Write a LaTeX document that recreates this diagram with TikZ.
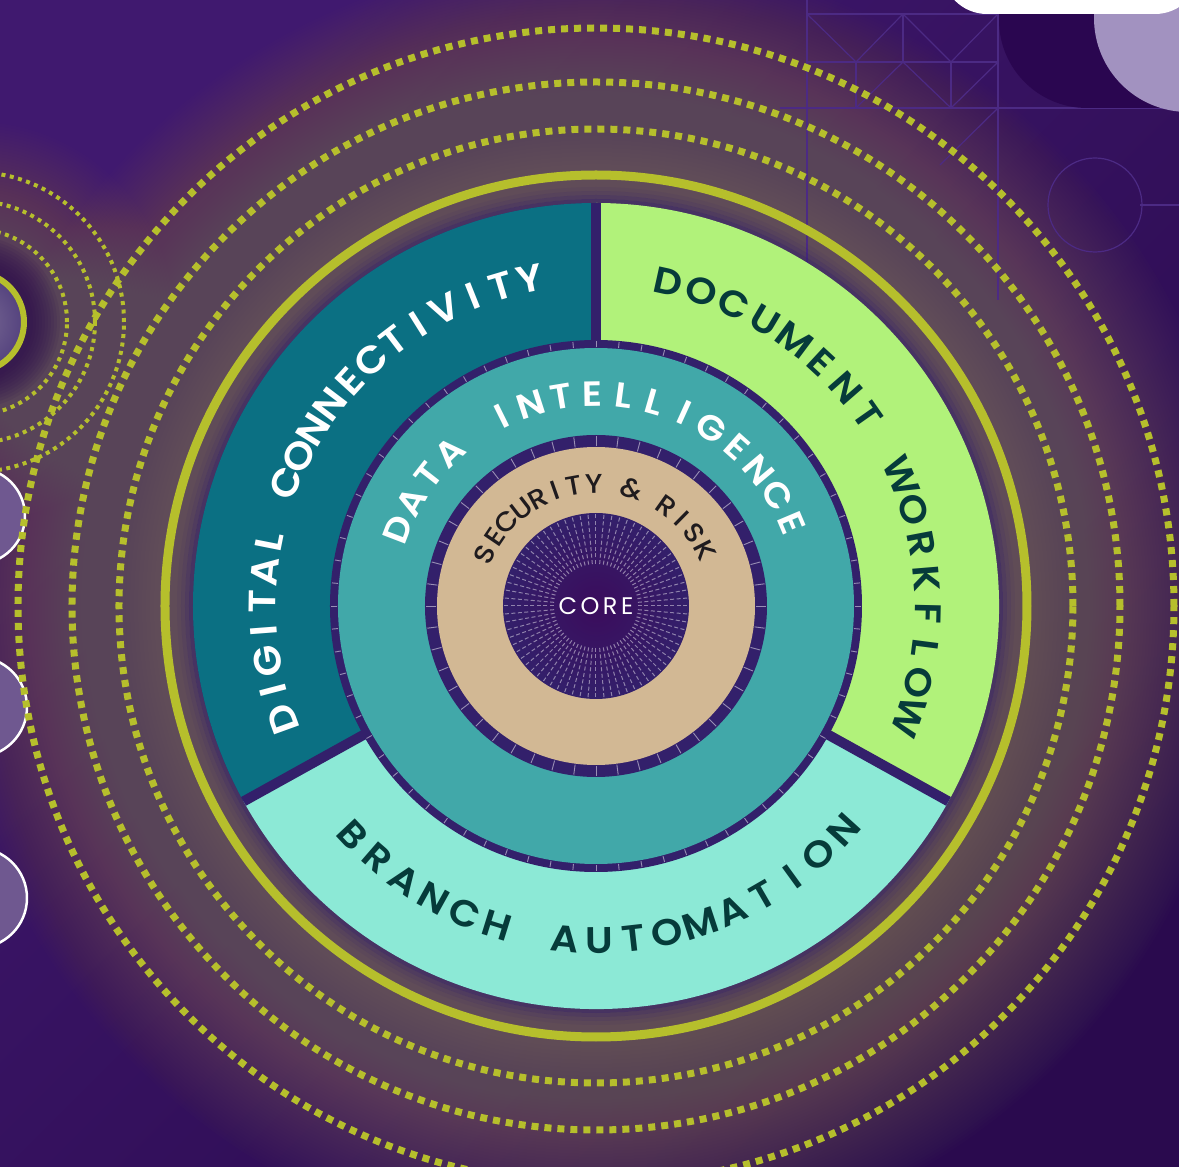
\documentclass[tikz,border=0pt]{standalone}
\usepackage{fontspec}
\setmainfont{Poppins}
\newfontfamily\labelfont{Poppins SemiBold}
\newfontfamily\smallfont{Poppins Medium}
\definecolor{bgtop}{HTML}{40196F}
\definecolor{bgdark}{HTML}{2A0A4E}
\definecolor{glowc}{HTML}{8A7658}
\definecolor{lime}{HTML}{B6BF2C}
\definecolor{indigo}{HTML}{33206B}
\definecolor{digitalc}{HTML}{0B7083}
\definecolor{docc}{HTML}{B1F27A}
\definecolor{branchc}{HTML}{8CE9D6}
\definecolor{datac}{HTML}{41A8A9}
\definecolor{secc}{HTML}{D2B894}
\definecolor{coredark}{HTML}{3B0C5C}
\definecolor{inkteal}{HTML}{063B3A}
\definecolor{inkdark}{HTML}{1F1B1E}
\definecolor{lavender}{HTML}{A292C0}
\definecolor{nightp}{HTML}{2A0650}
\definecolor{gridc}{HTML}{4C2A84}
\definecolor{bubblec}{HTML}{6F5890}
\definecolor{smallcore}{HTML}{7B6C95}
\definecolor{smalledge}{HTML}{54427E}
\tikzstyle{dashring} = [draw=lime, line width=7pt, dash pattern=on 7pt off 6pt]
\tikzstyle{dotring} = [draw=lime, line width=4pt, dash pattern=on 4pt off 4.5pt]
\tikzstyle{solidring} = [draw=lime, line width=9pt]
\tikzstyle{gridline} = [draw=gridc, line width=1.2pt]
\tikzstyle{bubble} = [fill=bubblec, draw=white, line width=2.5pt]
\tikzstyle{divider} = [draw=indigo, line width=10pt]
\tikzstyle{tick} = [draw=white, opacity=0.5, line width=0.9pt]
\tikzstyle{ray} = [draw=white, opacity=0.45, line width=1pt, dash pattern=on 4pt off 2.5pt]
\tikzstyle{letter} = [anchor=base, inner sep=0pt]
\newcommand{\spc}{\hspace*{0pt}}
\newcommand{\ringstretch}{1.08}
\newlength\charwd
% #1 name, #2 baseline radius, #3 first angle, #4 last angle, #5 direction, #6 font, #7 letters
\newcommand{\ringtext}[7]{%
    \gdef\ringtotal{0}%
    \foreach \ch [count=\i] in {#7} {%
        \settowidth{\charwd}{#6\ch}%
        \pgfmathsetmacro\ringwd{\charwd*\ringstretch}%
        \pgfmathsetmacro\ringtmp{\ringtotal+\ringwd}%
        \xdef\ringtotal{\ringtmp}%
        \ifnum\i=1 \xdef\ringfirst{\ringwd}\fi
        \xdef\ringlast{\ringwd}%
        \xdef\ringcount{\i}%
    }%
    \pgfmathsetmacro\ringspan{abs(#4-#3)/57.29578*#2}%
    \pgfmathsetmacro\ringtrack{(\ringspan-(\ringtotal-\ringfirst/2-\ringlast/2))/(\ringcount-1)}%
    \pgfmathsetmacro\ringtmp{-\ringspan/2-\ringfirst/2}%
    \xdef\ringpos{\ringtmp}%
    \foreach \ch [count=\i] in {#7} {%
        \settowidth{\charwd}{#6\ch}%
        \pgfmathsetmacro\ringwd{\charwd*\ringstretch}%
        \pgfmathsetmacro\ringang{(#3+#4)/2+#5*(\ringpos+\ringwd/2)/#2*57.29578}%
        \node (#1\i) [letter, rotate=\ringang+#5*90, xscale=\ringstretch, font=#6] at (\ringang:#2) {\ch};
        \pgfmathsetmacro\ringtmp{\ringpos+\ringwd+\ringtrack}%
        \xdef\ringpos{\ringtmp}%
    }%
}
\begin{document}
\begin{tikzpicture}[x=1pt, y=1pt]
        \useasboundingbox (-596,-561) rectangle (583,606);
        \clip (-596,-561) rectangle (583,606);
        \shade[top color=bgtop, bottom color=bgdark, shading angle=45] (-596,-561) rectangle (583,606);
        % glow round the wheel
        \foreach \r in {650,647,...,470}
            \fill[glowc, opacity=0.02] (0,0) circle (\r);
        \foreach \r in {470,466,...,440}
            \fill[glowc, opacity=0.03] (0,0) circle (\r);
        % glow round the small rings
        \foreach \r in {200,197,...,92}
            \fill[glowc, opacity=0.018] (-622,284) circle (\r);
        \foreach \r in {86,83,...,58}
            \fill[bgdark, opacity=0.1] (-622,284) circle (\r);
        \begin{scope}[shift={(-596,606)}, yscale=-1]
            \draw[gridline] (807,0) -- (807,300);
            \draw[gridline] (998,0) -- (998,300);
            \draw[gridline] (807,14) -- (998,14);
            \draw[gridline] (807,62) -- (998,62);
            \draw[gridline] (780,108) -- (1179,108);
            \draw[gridline] (1140,205) -- (1179,205);
            \draw[gridline] (903,14) -- (903,62);
            \draw[gridline] (856,62) -- (856,108);
            \draw[gridline] (951,62) -- (951,108);
            \draw[gridline] (807,14) -- (856,62) -- (903,14) -- (951,62) -- (998,14);
            \draw[gridline] (856,108) -- (903,62) -- (951,108);
            \draw[gridline] (998,62) -- (951,108);
            \draw[gridline] (998,108) -- (940,165);
            \draw[gridline] (1095,205) circle (47);
            \fill[nightp] (999,-10) [rounded corners=88] -- (999,108) [sharp corners] -- (1200,108) -- (1200,-10) -- cycle;
            \fill[lavender] (1188,18) circle (94);
            \fill[white, rounded corners=45] (942,-60) -- (942,14) -- (1200,14) [sharp corners] -- (1200,-60) -- cycle;
        \end{scope}
        % bubbles on the left edge
        \draw[bubble] (-619,90) circle (48);
        \draw[bubble] (-619,-101) circle (50);
        \draw[bubble] (-619,-292) circle (50);
        % small ring system
        \shade[inner color=smallcore, outer color=smalledge] (-622,284) circle (50);
        \draw[lime, line width=6pt] (-622,284) circle (50);
        \draw[dotring] (-622,284) circle (93);
        \draw[dotring] (-622,284) circle (121);
        \draw[dotring] (-622,284) circle (150);
        % rings
        \draw[dashring] (0,0) circle (477);
        \draw[dashring] (0,0) circle (524);
        \draw[dashring] (0,0) circle (578);
        \draw[solidring] (0,0) circle (431);
        \foreach \r/\op in {403/0.55, 407/0.35, 411/0.2, 415/0.08}
            \fill[indigo, opacity=\op, even odd rule] (0,0) circle (\r+4) (0,0) circle (\r);
        % segments
        \fill[indigo] (0,0) circle (403);
        \fill[digitalc] (0,0) -- (90:403) arc[start angle=90, end angle=209, radius=403] -- cycle;
        \fill[docc] (0,0) -- (-29:403) arc[start angle=-29, end angle=90, radius=403] -- cycle;
        \fill[branchc] (0,0) -- (209:403) arc[start angle=209, end angle=331, radius=403] -- cycle;
        \draw[divider] (0,0) -- (90:403);
        \draw[divider] (0,0) -- (209:403);
        \draw[divider] (0,0) -- (331:403);
        \fill[indigo] (0,0) circle (266);
        \fill[datac] (0,0) circle (258);
        \foreach \a in {0,5,...,355}
            \draw[tick] (\a:259) -- (\a:265);
        \fill[indigo] (0,0) circle (171);
        \fill[secc] (0,0) circle (159);
        \foreach \a in {0,7.5,...,355}
            \draw[tick] (\a:160) -- (\a:170);
        \shade[inner color=coredark, outer color=indigo] (0,0) circle (93);
        \foreach \a in {0,5,...,355}
            \draw[ray] (\a:42) -- (\a:92);
        % labels
        \ringtext{dig}{320}{199.9}{101.4}{-1}{\labelfont\fontsize{38}{38}\selectfont\color{white}}{D,I,G,I,T,A,L,\spc,C,O,N,N,E,C,T,I,V,I,T,Y}
        \ringtext{doc}{319}{77.5}{-19.5}{-1}{\labelfont\fontsize{37}{37}\selectfont\color{inkteal}}{D,O,C,U,M,E,N,T,\spc,W,O,R,K,F,L,O,W}
        \ringtext{bra}{347}{223.2}{317.8}{1}{\labelfont\fontsize{37}{37}\selectfont\color{inkteal}}{B,R,A,N,C,H,\spc,A,U,T,O,M,A,T,I,O,N}
        \ringtext{dat}{200}{159}{22.9}{-1}{\labelfont\fontsize{35}{35}\selectfont\color{white}}{D,A,T,A,\spc,I,N,T,E,L,L,I,G,E,N,C,E}
        \ringtext{sec}{113}{155}{27.2}{-1}{\smallfont\fontsize{27}{27}\selectfont\color{inkdark}}{S,E,C,U,R,I,T,Y,\spc,\&,\spc,R,I,S,K}
        \node (core) [text=white, font=\fontsize{24}{24}\selectfont] at (0,0) {C\kern3.5pt O\kern3.5pt R\kern3.5pt E};
    \end{tikzpicture}
\end{document}
